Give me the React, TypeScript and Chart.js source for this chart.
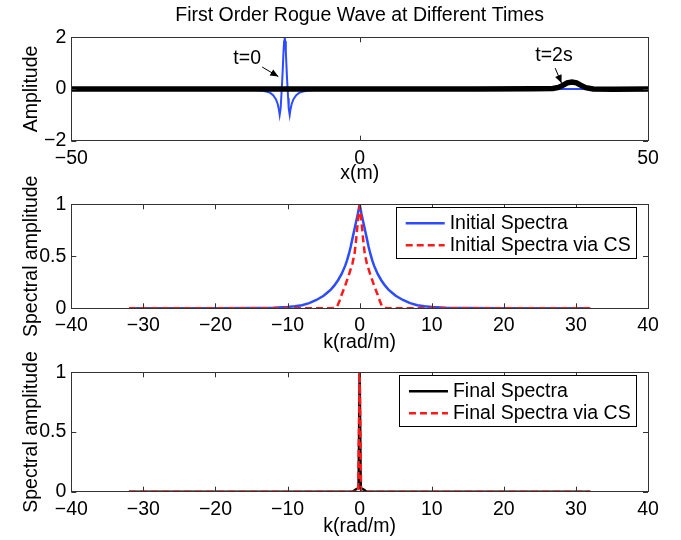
import React, { useEffect, useRef } from "react";
import { Chart, registerables } from "chart.js";
Chart.register(...registerables);

const FONT = "'Liberation Sans', Arial, Helvetica, sans-serif";
const FS = 19.5;
const BLUE = "#2b4cff";
const RED = "#ff1a1a";
const BLACK = "#000000";

// ---------- Panel 1: wave at t=0 and t=2s ----------
const TITLE = "First Order Rogue Wave at Different Times";
const waveT0X = [-50, -25, -19, -17, -16, -15.5, -15, -14.5, -14.2, -14.0, -13.87, -13.7, -13.6, -13.4, -13.2, -13.1, -13, -12.9, -12.8, -12.6, -12.4, -12.3, -12.13, -12.0, -11.8, -11.5, -11, -10.5, -10, -9, -7, -3, 20, 50];
const waveT0Y = [0, -0.01, -0.03, -0.06, -0.11, -0.15, -0.24, -0.4, -0.59, -0.8, -1.0, -0.75, -0.36, 0.44, 1.45, 1.85, 2.0, 1.85, 1.45, 0.44, -0.36, -0.75, -1.0, -0.8, -0.59, -0.4, -0.24, -0.15, -0.11, -0.06, -0.03, -0.01, 0, 0];
const waveT2X = [-50, 20, 30, 33.5, 34.5, 35.3, 36, 36.8, 37.6, 38.3, 39.2, 40.5, 44, 50];
const waveT2Y = [0, 0, 0.01, 0.02, 0.06, 0.15, 0.24, 0.27, 0.24, 0.15, 0.05, 0.0, -0.01, 0];

// ---------- Panel 2: initial spectra ----------
const kInit = [-32, -25, -20, -15, -12, -10, -9, -8, -7, -6, -5, -4.5, -4, -3.5, -3, -2.5, -2, -1.75, -1.5, -1.25, -1, -0.75, -0.5, -0.25, 0, 0.25, 0.5, 0.75, 1, 1.25, 1.5, 1.75, 2, 2.5, 3, 3.5, 4, 4.5, 5, 6, 7, 8, 9, 10, 12, 15, 20, 25, 32];
const specInit = [0, 0, 0, 0.002, 0.005, 0.012, 0.02, 0.03, 0.05, 0.08, 0.12, 0.15, 0.18, 0.22, 0.27, 0.33, 0.41, 0.46, 0.52, 0.59, 0.67, 0.75, 0.83, 0.91, 1.0, 0.91, 0.83, 0.75, 0.67, 0.59, 0.52, 0.46, 0.41, 0.33, 0.27, 0.22, 0.18, 0.15, 0.12, 0.08, 0.05, 0.03, 0.02, 0.012, 0.005, 0.002, 0, 0, 0];
const kInitCS = [-32, -20, -10, -5, -4, -3.5, -3.1, -2.8, -2.5, -2, -1.5, -1, -0.7, -0.5, -0.3, -0.15, 0, 0.15, 0.3, 0.5, 0.7, 1, 1.5, 2, 2.5, 2.8, 3.1, 3.5, 4, 5, 10, 20, 32];
const specInitCS = [0, 0, 0, 0, 0, 0.003, 0.02, 0.07, 0.13, 0.22, 0.32, 0.43, 0.53, 0.65, 0.8, 0.9, 0.98, 0.9, 0.8, 0.65, 0.53, 0.43, 0.32, 0.22, 0.13, 0.07, 0.02, 0.003, 0, 0, 0, 0, 0];

// ---------- Panel 3: final spectra ----------
const kFinal = [-32, -1, -0.5, -0.15, 0, 0.15, 0.5, 1, 32];
const specFinal = [0, 0, 0.02, 0.03, 1, 0.03, 0.02, 0, 0];
const kFinalCS = [-32, -0.2, 0, 0.2, 32];
const specFinalCS = [0, 0, 1, 0, 0];

const LABEL_T0 = "t=0";
const LABEL_T2 = "t=2s";

const zip = (xs: number[], ys: number[]) => xs.map((x, i) => ({ x, y: ys[i] }));
const fmt = (v: any) => String(v).replace("-", "\u2212");

const boxPlugin = {
  id: "boxTicks",
  afterDraw(chart: any) {
    const { ctx, chartArea: a, scales } = chart;
    ctx.save();
    ctx.strokeStyle = "#333";
    ctx.lineWidth = 1;
    ctx.strokeRect(Math.round(a.left) + 0.5, Math.round(a.top) + 0.5, Math.round(a.right - a.left), Math.round(a.bottom - a.top));
    const L = 5;
    ctx.beginPath();
    scales.x.ticks.forEach((t: any) => {
      const px = Math.round(scales.x.getPixelForValue(t.value)) + 0.5;
      ctx.moveTo(px, a.bottom);
      ctx.lineTo(px, a.bottom - L);
      ctx.moveTo(px, a.top);
      ctx.lineTo(px, a.top + L);
    });
    scales.y.ticks.forEach((t: any) => {
      const py = Math.round(scales.y.getPixelForValue(t.value)) + 0.5;
      ctx.moveTo(a.left, py);
      ctx.lineTo(a.left + L, py);
      ctx.moveTo(a.right, py);
      ctx.lineTo(a.right - L, py);
    });
    ctx.stroke();
    ctx.restore();
  },
};

function legendPlugin(order: number[]) {
  return {
    id: "boxLegend",
    afterDraw(chart: any) {
      const { ctx, chartArea: a } = chart;
      ctx.save();
      ctx.font = `${FS}px ${FONT}`;
      const items = order.map((i) => chart.data.datasets[i]);
      const tw = Math.max(...items.map((d: any) => ctx.measureText(d.label).width));
      const right = a.right - 12.3;
      const top = a.top + 3;
      const w = 54 + tw + 5;
      const h = 51;
      const left = right - w;
      ctx.fillStyle = "#fff";
      ctx.fillRect(left, top, w, h);
      ctx.strokeStyle = "#000";
      ctx.lineWidth = 1;
      ctx.strokeRect(Math.round(left) + 0.5, Math.round(top) + 0.5, Math.round(w), Math.round(h));
      items.forEach((d: any, i: number) => {
        const y = top + 16 + i * 22;
        ctx.beginPath();
        ctx.strokeStyle = d.borderColor;
        ctx.lineWidth = d.borderWidth;
        ctx.setLineDash(d.borderDash || []);
        ctx.moveTo(left + 10, y);
        ctx.lineTo(left + 49, y);
        ctx.stroke();
        ctx.setLineDash([]);
        ctx.fillStyle = "#000";
        ctx.textBaseline = "middle";
        ctx.textAlign = "left";
        ctx.fillText(d.label, left + 54, y);
      });
      ctx.restore();
    },
  };
}

const arrowsPlugin = {
  id: "arrows",
  afterDraw(chart: any) {
    const { ctx, scales } = chart;
    const X = (v: number) => scales.x.getPixelForValue(v);
    const Y = (v: number) => scales.y.getPixelForValue(v);
    const notes = [
      { text: LABEL_T0, tx: -19.5, ty: 1.18, x1: -16.9, y1: 0.85, x2: -14.1, y2: 0.48 },
      { text: LABEL_T2, tx: 33.7, ty: 1.28, x1: 33.9, y1: 0.81, x2: 35.0, y2: 0.23 },
    ];
    ctx.save();
    ctx.font = `${FS}px ${FONT}`;
    ctx.fillStyle = "#000";
    ctx.strokeStyle = "#000";
    ctx.textAlign = "center";
    ctx.textBaseline = "middle";
    notes.forEach((n) => {
      ctx.fillText(n.text, X(n.tx), Y(n.ty));
      const ax = X(n.x1), ay = Y(n.y1), bx = X(n.x2), by = Y(n.y2);
      ctx.lineWidth = 1;
      ctx.beginPath();
      ctx.moveTo(ax, ay);
      ctx.lineTo(bx, by);
      ctx.stroke();
      const ang = Math.atan2(by - ay, bx - ax);
      const hl = 8, hw = 3.5;
      ctx.beginPath();
      ctx.moveTo(bx, by);
      ctx.lineTo(bx - hl * Math.cos(ang) + hw * Math.sin(ang), by - hl * Math.sin(ang) - hw * Math.cos(ang));
      ctx.lineTo(bx - hl * Math.cos(ang) - hw * Math.sin(ang), by - hl * Math.sin(ang) + hw * Math.cos(ang));
      ctx.closePath();
      ctx.fill();
    });
    ctx.restore();
  },
};

function axes(xmin: number, xmax: number, xstep: number, ymin: number, ymax: number, ystep: number, xTitle: string, yTitle: string, xH: number) {
  const font = { family: FONT, size: FS };
  return {
    x: {
      type: "linear",
      min: xmin,
      max: xmax,
      grid: { display: false, drawTicks: false, tickLength: 0 },
      border: { display: false },
      ticks: { stepSize: xstep, autoSkip: false, maxRotation: 0, padding: 6, color: "#000", font, callback: (v: any) => fmt(v) },
      title: { display: true, text: xTitle, color: "#000", font, padding: { top: 0, bottom: 0 } },
      afterFit: (s: any) => { s.height = xH; },
    },
    y: {
      type: "linear",
      min: ymin,
      max: ymax,
      grid: { display: false, drawTicks: false, tickLength: 0 },
      border: { display: false },
      ticks: { stepSize: ystep, autoSkip: false, padding: 5, color: "#000", font, callback: (v: any) => fmt(v) },
      title: { display: true, text: yTitle, color: "#000", font, padding: { top: 20, bottom: 0 } },
      afterFit: (s: any) => { s.width = 71.3; },
    },
  };
}

function config1(): any {
  return {
    type: "line",
    data: {
      datasets: [
        { label: LABEL_T2, data: zip(waveT2X, waveT2Y), borderColor: BLACK, borderWidth: 5.5, pointRadius: 0, tension: 0, order: 0 },
        { label: LABEL_T0, data: zip(waveT0X, waveT0Y), borderColor: BLUE, borderWidth: 2, pointRadius: 0, tension: 0, order: 1 },
      ],
    },
    options: {
      responsive: false,
      animation: false,
      layout: { padding: { left: 0, right: 33, top: 0, bottom: 354.6 } },
      plugins: {
        legend: { display: false },
        tooltip: { enabled: false },
        title: { display: true, text: TITLE, fullSize: false, color: "#000", font: { family: FONT, size: FS, weight: "normal" }, padding: { top: 4.3, bottom: 9.6 } },
      },
      scales: axes(-50, 50, 50, -2, 2, 2, "x(m)", "Amplitude", 44.7),
    },
    plugins: [boxPlugin, arrowsPlugin],
  };
}

function config2(): any {
  return {
    type: "line",
    data: {
      datasets: [
        { label: "Initial Spectra", data: zip(kInit, specInit), borderColor: BLUE, borderWidth: 2.5, pointRadius: 0, tension: 0, order: 1 },
        { label: "Initial Spectra via CS", data: zip(kInitCS, specInitCS), borderColor: RED, borderWidth: 2.5, borderDash: [7, 4], pointRadius: 0, tension: 0, order: 0 },
      ],
    },
    options: {
      responsive: false,
      animation: false,
      layout: { padding: { left: 0, right: 33, top: 204.3, bottom: 185.6 } },
      plugins: { legend: { display: false }, tooltip: { enabled: false } },
      scales: axes(-40, 40, 10, 0, 1, 0.5, "k(rad/m)", "Spectral amplitude", 46.1),
    },
    plugins: [boxPlugin, legendPlugin([0, 1])],
  };
}

function config3(): any {
  return {
    type: "line",
    data: {
      datasets: [
        { label: "Final Spectra", data: zip(kFinal, specFinal), borderColor: BLACK, borderWidth: 2.5, pointRadius: 0, tension: 0, order: 1 },
        { label: "Final Spectra via CS", data: zip(kFinalCS, specFinalCS), borderColor: RED, borderWidth: 2.5, borderDash: [7, 4], pointRadius: 0, tension: 0, order: 0 },
      ],
    },
    options: {
      responsive: false,
      animation: false,
      layout: { padding: { left: 0, right: 33, top: 372.3, bottom: 1.6 } },
      plugins: { legend: { display: false }, tooltip: { enabled: false } },
      scales: axes(-40, 40, 10, 0, 1, 0.5, "k(rad/m)", "Spectral amplitude", 46.7),
    },
    plugins: [boxPlugin, legendPlugin([0, 1])],
  };
}

export default function App() {
  const r1 = useRef<HTMLCanvasElement>(null);
  const r2 = useRef<HTMLCanvasElement>(null);
  const r3 = useRef<HTMLCanvasElement>(null);
  useEffect(() => {
    const charts = [
      new Chart(r1.current as HTMLCanvasElement, config1()),
      new Chart(r2.current as HTMLCanvasElement, config2()),
      new Chart(r3.current as HTMLCanvasElement, config3()),
    ];
    return () => charts.forEach((c) => c.destroy());
  }, []);
  const cs: React.CSSProperties = { position: "absolute", left: 0, top: 0 };
  return (
    <div style={{ position: "absolute", left: 0, top: 0, width: 681, height: 540, background: "#fff" }}>
      <canvas ref={r1} width={681} height={540} style={cs} />
      <canvas ref={r2} width={681} height={540} style={cs} />
      <canvas ref={r3} width={681} height={540} style={cs} />
    </div>
  );
}
